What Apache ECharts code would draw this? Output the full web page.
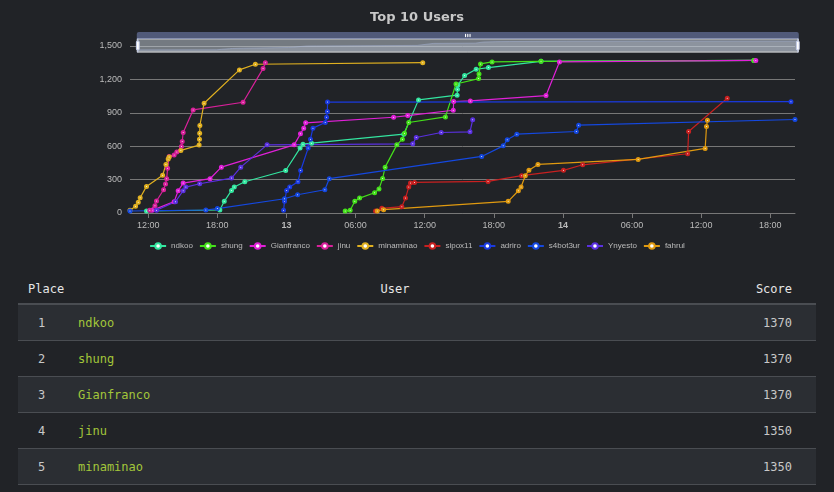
<!DOCTYPE html>
<html><head><meta charset="utf-8">
<script src="https://cdn.jsdelivr.net/npm/echarts@6/dist/echarts.min.js"></script>
<style>
body{margin:0;background:#212327;width:834px;height:492px;overflow:hidden;font-family:"DejaVu Sans Mono",monospace;}
#c{width:834px;height:262px;}
table{position:absolute;left:18px;top:274px;width:798px;border-collapse:collapse;font-size:12px;table-layout:fixed;}
th{color:#e6e6e6;font-weight:normal;height:29px;padding:0;border-bottom:2px solid #4a4d52;}
td{height:35px;padding:0;border-bottom:1px solid #4a4d52;color:#c8c8c8;}
tr.odd td{background:#2b2e33;}
.n{color:#a3c63a;}
</style></head><body>
<div id="c"></div>
<table id="t"><thead><tr><th style="text-align:left;padding-left:10px;width:50px">Place</th><th>User</th><th style="text-align:right;padding-right:24px;width:80px">Score</th></tr></thead><tbody></tbody></table>
<script>
const names=['ndkoo','shung','Gianfranco','jinu','minaminao','sipox11','adriro','s4bot3ur','Ynyesto','fahrul'];
const colors=['#33e6a0','#44e01a','#e020d8','#d8209a','#e0b020','#c82020','#1a3ae0','#1448e0','#5a30e0','#e09a10'];
const ndkoo=[['2024-01-12 11:51',18],['2024-01-12 18:13',27],['2024-01-12 18:36',105],['2024-01-12 19:14',203],['2024-01-12 19:28',233],['2024-01-12 20:23',281],['2024-01-12 23:56',382],['2024-01-13 01:11',583],['2024-01-13 01:26',618],['2024-01-13 02:11',627],['2024-01-13 10:11',708],['2024-01-13 11:28',1016],['2024-01-13 14:49',1058],['2024-01-13 14:51',1112],['2024-01-13 14:53',1150],['2024-01-13 15:28',1234],['2024-01-13 16:28',1291],['2024-01-13 17:32',1306],['2024-01-13 22:06',1362],['2024-01-14 16:36',1370]];
const shung=[['2024-01-13 05:06',18],['2024-01-13 05:32',24],['2024-01-13 05:56',105],['2024-01-13 06:21',134],['2024-01-13 07:39',182],['2024-01-13 08:02',215],['2024-01-13 08:21',311],['2024-01-13 08:34',412],['2024-01-13 09:35',612],['2024-01-13 10:04',663],['2024-01-13 10:15',717],['2024-01-13 10:37',813],['2024-01-13 13:48',863],['2024-01-13 14:43',1159],['2024-01-13 16:41',1207],['2024-01-13 16:43',1249],['2024-01-13 16:51',1339],['2024-01-13 17:51',1357],['2024-01-13 22:06',1362],['2024-01-14 16:34',1370]];
const gianfranco=[['2024-01-12 12:20',24],['2024-01-12 14:15',102],['2024-01-12 14:36',200],['2024-01-12 15:02',269],['2024-01-12 17:22',308],['2024-01-12 18:21',412],['2024-01-13 00:40',612],['2024-01-13 01:13',711],['2024-01-13 01:30',762],['2024-01-13 01:40',810],['2024-01-13 09:18',860],['2024-01-13 10:32',875],['2024-01-13 14:29',923],['2024-01-13 14:31',1001],['2024-01-13 15:58',1007],['2024-01-13 22:32',1055],['2024-01-13 23:42',1357],['2024-01-14 16:45',1370]];
const jinu=[['2024-01-12 12:08',24],['2024-01-12 12:35',66],['2024-01-12 12:43',108],['2024-01-12 13:20',209],['2024-01-12 13:30',260],['2024-01-12 13:36',308],['2024-01-12 13:41',403],['2024-01-12 13:49',508],['2024-01-12 14:15',520],['2024-01-12 14:29',547],['2024-01-12 14:53',598],['2024-01-12 14:57',642],['2024-01-12 15:02',723],['2024-01-12 15:54',926],['2024-01-12 20:14',995],['2024-01-12 21:58',1297],['2024-01-12 22:10',1350]];
const minaminao=[['2024-01-12 10:25',24],['2024-01-12 10:54',60],['2024-01-12 11:08',96],['2024-01-12 11:18',137],['2024-01-12 11:51',239],['2024-01-12 13:15',338],['2024-01-12 13:32',436],['2024-01-12 13:44',484],['2024-01-12 13:49',502],['2024-01-12 14:50',562],['2024-01-12 16:25',610],['2024-01-12 16:27',663],['2024-01-12 16:28',717],['2024-01-12 16:29',786],['2024-01-12 16:51',986],['2024-01-12 19:55',1285],['2024-01-12 21:18',1336],['2024-01-13 11:50',1350]];
const sipox11=[['2024-01-13 07:44',18],['2024-01-13 08:17',42],['2024-01-13 10:01',57],['2024-01-13 10:20',134],['2024-01-13 10:37',233],['2024-01-13 10:46',269],['2024-01-13 11:07',275],['2024-01-13 17:30',284],['2024-01-13 20:25',335],['2024-01-14 00:03',383],['2024-01-14 01:43',433],['2024-01-14 10:50',532],['2024-01-14 10:55',732],['2024-01-14 14:16',1031]];
const adriro=[['2024-01-12 23:45',24],['2024-01-12 23:50',105],['2024-01-13 00:01',203],['2024-01-13 00:17',233],['2024-01-13 01:00',281],['2024-01-13 01:14',382],['2024-01-13 01:53',583],['2024-01-13 02:05',663],['2024-01-13 02:18',762],['2024-01-13 03:22',813],['2024-01-13 03:29',860],['2024-01-13 03:33',911],['2024-01-13 03:34',996],['2024-01-14 19:48',1000]];
const s4bot3ur=[['2024-01-12 10:25',18],['2024-01-12 17:00',27],['2024-01-12 18:00',40],['2024-01-12 23:50',128],['2024-01-13 00:58',164],['2024-01-13 03:20',209],['2024-01-13 03:43',308],['2024-01-13 16:57',508],['2024-01-13 18:49',603],['2024-01-13 19:10',657],['2024-01-13 20:00',708],['2024-01-14 01:10',732],['2024-01-14 01:22',789],['2024-01-14 20:09',840]];
const ynyesto=[['2024-01-12 12:43',24],['2024-01-12 14:22',102],['2024-01-12 15:02',200],['2024-01-12 15:16',233],['2024-01-12 16:28',263],['2024-01-12 19:14',314],['2024-01-12 20:02',412],['2024-01-12 22:19',612],['2024-01-13 10:58',621],['2024-01-13 11:16',678],['2024-01-13 13:26',723],['2024-01-13 15:56',729],['2024-01-13 16:10',837]];
const fahrul=[['2024-01-13 07:53',18],['2024-01-13 08:26',30],['2024-01-13 19:15',105],['2024-01-13 20:08',200],['2024-01-13 20:22',233],['2024-01-13 20:44',335],['2024-01-13 21:03',383],['2024-01-13 21:50',436],['2024-01-14 06:32',481],['2024-01-14 12:21',580],['2024-01-14 12:28',777],['2024-01-14 12:33',834]];
const seriesData=[ndkoo,shung,gianfranco,jinu,minaminao,sipox11,adriro,s4bot3ur,ynyesto,fahrul];
const places=[1,2,3,4,5];
const tableUsers=['ndkoo','shung','Gianfranco','jinu','minaminao'];
const tableScores=[1370,1370,1370,1350,1350];

const tb=document.querySelector('#t tbody');
places.forEach((p,i)=>{const tr=document.createElement('tr');if(i%2===0)tr.className='odd';
tr.innerHTML=`<td style="padding-left:20px">${p}</td><td class="n">${tableUsers[i]}</td><td style="text-align:right;padding-right:24px">${tableScores[i]}</td>`;tb.appendChild(tr);});
document.querySelector('#t thead th:nth-child(2)').style.textAlign='center';

const chart=echarts.init(document.getElementById('c'));
chart.setOption({
 backgroundColor:'#212327',
 color:colors,
 title:{text:'Top 10 Users',left:'center',top:6,textStyle:{color:'#c8c8c8',fontSize:13,fontWeight:'bold',fontFamily:'DejaVu Sans'}},
 grid:{left:130,right:39,top:46,height:167},
 dataZoom:[{type:'slider',top:32,height:14,left:134,right:38,showDetail:false,borderColor:'#ccc',fillerColor:'rgba(200,210,220,0.5)',dataBackground:{lineStyle:{color:'#888'},areaStyle:{color:'#777'}}}],
 legend:{top:237,left:'center',itemWidth:16,itemHeight:7,itemGap:6,textStyle:{color:'#bbb',fontSize:8}},
 xAxis:{type:'time',axisLine:{lineStyle:{color:'#777'}},axisTick:{lineStyle:{color:'#777'}},splitLine:{show:false},axisLabel:{color:'#bbb',fontSize:9}},
 yAxis:{type:'value',min:0,max:1500,interval:300,axisLabel:{color:'#bbb',fontSize:9},splitLine:{lineStyle:{color:'#777'}}},
 series:names.map((n,i)=>({name:n,type:'line',data:seriesData[i],symbol:'emptyCircle',symbolSize:3,lineStyle:{width:1.2},emphasis:{disabled:true}}))
});
</script></body></html>
